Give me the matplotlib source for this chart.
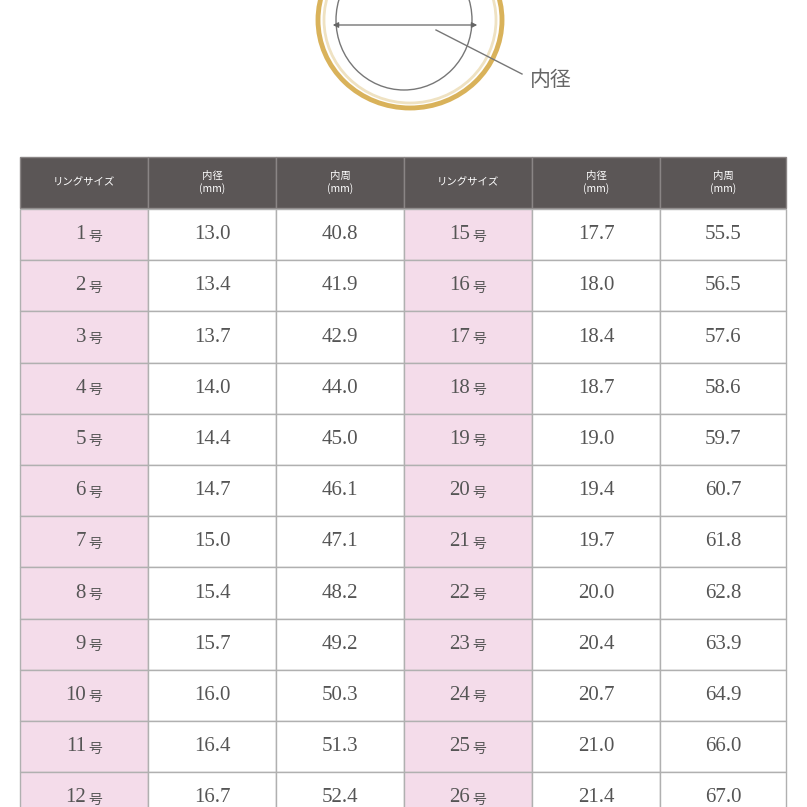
import matplotlib
matplotlib.use("Agg")
import matplotlib.pyplot as plt
from matplotlib.patches import Rectangle, Ellipse

plt.rcParams['font.family'] = ['Noto Sans CJK JP', 'DejaVu Sans']

sizes_left = [1, 2, 3, 4, 5, 6, 7, 8, 9, 10, 11, 12]
diam_left = [13.0, 13.4, 13.7, 14.0, 14.4, 14.7, 15.0, 15.4, 15.7, 16.0, 16.4, 16.7]
circ_left = [40.8, 41.9, 42.9, 44.0, 45.0, 46.1, 47.1, 48.2, 49.2, 50.3, 51.3, 52.4]
sizes_right = [15, 16, 17, 18, 19, 20, 21, 22, 23, 24, 25, 26]
diam_right = [17.7, 18.0, 18.4, 18.7, 19.0, 19.4, 19.7, 20.0, 20.4, 20.7, 21.0, 21.4]
circ_right = [55.5, 56.5, 57.6, 58.6, 59.7, 60.7, 61.8, 62.8, 63.9, 64.9, 66.0, 67.0]
headers = ["リングサイズ", "内径\n(mm)", "内周\n(mm)", "リングサイズ", "内径\n(mm)", "内周\n(mm)"]

fig = plt.figure(figsize=(8.07, 8.07), dpi=100)
ax = fig.add_axes([0, 0, 1, 1])
ax.set_xlim(0, 807); ax.set_ylim(807, 0); ax.axis('off')

# ring drawing
ax.add_patch(Ellipse((410, 20), 184, 176, fill=False, ec='#d9b25a', lw=3.5))
ax.add_patch(Ellipse((410, 20), 172, 166, fill=False, ec='#efe2c2', lw=2))
ax.add_patch(Ellipse((404, 20), 136, 140, fill=False, ec='#777777', lw=1))
ax.annotate('', xy=(330, 25), xytext=(480, 25),
            arrowprops=dict(arrowstyle='<|-|>', color='#666666', lw=0.9, mutation_scale=8))
ax.plot([436, 522], [30, 74], color='#777777', lw=1)
ax.text(530, 80, '内径', fontsize=15, color='#666666', va='center', ha='left')

col_x = [20, 148, 276, 404, 532, 660, 786]
top, head_h, row_h = 157, 51, 51.2
grid = '#b0b0b0'
for i in range(6):
    ax.add_patch(Rectangle((col_x[i], top), col_x[i+1]-col_x[i], head_h,
                           fc='#5b5656', ec='#8a8585', lw=1))
    fs = 7.5
    ax.text((col_x[i]+col_x[i+1])/2, top+head_h/2, headers[i], color='white',
            fontsize=fs, ha='center', va='center', linespacing=1.3)

rows = [(sizes_left, diam_left, circ_left, 0), (sizes_right, diam_right, circ_right, 3)]
for s, d, c, off in rows:
    for r in range(len(s)):
        y = top + head_h + 1 + r*row_h
        vals = [f"{s[r]}号", f"{d[r]:.1f}", f"{c[r]:.1f}"]
        for j in range(3):
            x0, x1 = col_x[off+j], col_x[off+j+1]
            fc = '#f4dcea' if j == 0 else 'white'
            ax.add_patch(Rectangle((x0, y), x1-x0, row_h, fc=fc, ec=grid, lw=1))
            if j == 0:
                num = str(s[r])
                cx = (x0+x1)/2
                ax.text(cx+2, y+row_h/2, num, fontsize=15, color='#555555',
                        ha='right', va='center', family='Liberation Serif')
                ax.text(cx+4, y+row_h/2+2, '号', fontsize=10, color='#555555',
                        ha='left', va='center')
            else:
                ax.text((x0+x1)/2, y+row_h/2, vals[j], fontsize=15, color='#555555',
                        ha='center', va='center', family='Liberation Serif')

fig.savefig('out.png', dpi=100)
